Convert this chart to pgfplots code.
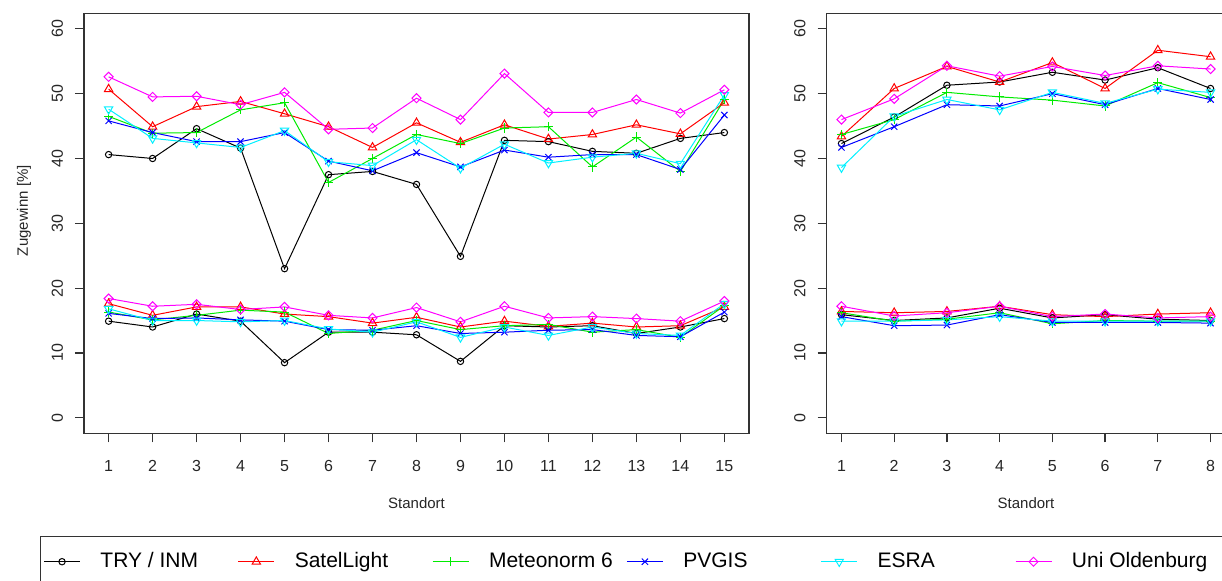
\documentclass[border=0pt]{standalone}
\usepackage{fontspec}
\setmainfont{Liberation Sans}
\usepackage{pgfplots}
\usepackage{pgfplotstable}
\pgfplotsset{compat=1.18}

\definecolor{rGreen}{RGB}{0,235,0}
\definecolor{rCyan}{RGB}{0,240,255}
\definecolor{rMag}{RGB}{255,0,255}

% left panel, upper group (x = Standort)
\pgfplotstableread{
x  try  sat  met  pvg  esra uni
1  40.6 50.7 46.5 45.8 47.6 52.6
2  40.0 44.9 43.9 44.0 43.1 49.5
3  44.6 48.0 44.0 42.6 42.4 49.6
4  41.6 48.8 47.5 42.6 41.7 48.3
5  23.0 46.9 48.6 44.0 44.3 50.2
6  37.5 44.9 36.3 39.6 39.5 44.5
7  38.0 41.7 40.0 38.1 38.9 44.7
8  36.0 45.5 43.7 40.9 42.9 49.3
9  24.9 42.5 42.3 38.7 38.5 46.0
10 42.8 45.2 44.7 41.3 42.2 53.1
11 42.6 43.0 44.9 40.2 39.3 47.1
12 41.1 43.7 38.7 40.6 40.2 47.1
13 40.8 45.2 43.3 40.6 40.8 49.1
14 43.1 43.8 38.0 38.3 39.2 47.0
15 44.0 48.6 49.1 46.7 49.8 50.6
}\leftup
% left panel, lower group
\pgfplotstableread{
x  try  sat  met  pvg  esra uni
1  14.9 17.6 16.3 16.1 16.8 18.4
2  14.0 15.8 15.1 15.3 15.0 17.2
3  16.0 17.1 15.8 15.4 15.0 17.5
4  14.9 17.1 16.6 15.1 14.8 16.7
5  8.5  16.0 16.3 14.9 15.0 17.1
6  13.2 15.6 13.0 13.6 13.7 15.8
7  13.2 14.6 13.5 13.5 13.2 15.4
8  12.8 15.5 15.0 14.2 14.8 17.0
9  8.7  14.0 13.6 13.0 12.4 14.8
10 14.2 14.9 14.2 13.2 14.0 17.2
11 14.0 14.1 14.4 13.5 12.7 15.4
12 14.2 14.6 13.2 13.6 14.0 15.6
13 13.0 14.0 13.6 12.7 13.0 15.3
14 14.0 14.2 12.4 12.5 12.7 14.9
15 15.3 17.1 17.3 16.3 17.6 18.0
}\leftlo
% right panel, upper group
\pgfplotstableread{
x  try  sat  met  pvg  esra uni
1  42.3 43.4 43.7 41.7 38.6 46.0
2  46.4 50.8 46.0 44.9 46.5 49.2
3  51.3 54.2 50.2 48.3 49.1 54.3
4  51.8 51.8 49.5 48.1 47.5 52.7
5  53.3 54.8 49.0 50.0 50.2 54.2
6  52.1 50.8 48.1 48.3 48.5 52.8
7  54.0 56.7 51.7 50.8 50.7 54.3
8  50.8 55.7 49.4 49.1 50.2 53.8
}\rightup
% right panel, lower group
\pgfplotstableread{
x  try  sat  met  pvg  esra uni
1  15.9 16.4 16.2 15.6 14.9 17.2
2  15.0 16.2 14.9 14.2 14.9 15.7
3  15.4 16.4 15.2 14.3 15.1 16.2
4  16.9 17.2 16.2 15.9 15.6 17.2
5  15.4 15.9 14.5 14.7 14.9 15.6
6  15.9 15.6 15.0 14.7 14.9 16.0
7  15.2 16.0 14.9 14.7 14.9 15.4
8  15.0 16.2 14.9 14.6 14.9 15.6
}\rightlo

\pgfplotsset{
  rpanel/.style={
    scale only axis, height=210pt,
    ymin=-2.4, ymax=62.4, ytick={0,10,...,60},
    tick align=outside, xtick pos=bottom, ytick pos=left,
    major tick length=4.5pt,
    axis line style={line width=0.6pt, black!80},
    tick style={line width=0.6pt, black!80},
    ticklabel style={font=\fontsize{8}{9}\selectfont, black!85},
    xticklabel style={yshift=-5.5pt},
    yticklabel style={rotate=90, anchor=south},
    yticklabel shift=2.5pt,
    /pgf/number format/assume math mode=true,
    xlabel={Standort}, ylabel={Zugewinn [\%]},
    label style={font=\fontsize{7.5}{9}\selectfont, black!85},
    xlabel style={at={(axis description cs:0.5,0)}, anchor=center, yshift=-34.8pt},
    ylabel style={at={(axis description cs:0,0.53)}, anchor=center, yshift=30pt},
    every axis plot/.append style={line width=0.5pt, mark options={solid, line width=0.5pt}},
  },
  sTry/.style={black, mark=o, mark size=1.6pt},
  sSat/.style={red, mark=triangle, mark size=2.4pt},
  sMet/.style={rGreen, mark=+, mark size=2.3pt},
  sPvg/.style={blue, mark=x, mark size=2.2pt},
  sEsra/.style={rCyan, mark=triangle, mark size=2.4pt, mark options={rotate=180}},
  sUni/.style={rMag, mark=square, mark size=1.6pt, mark options={rotate=45}},
}
\newcommand{\lent}[2][74.7pt]{\makebox[#1][l]{\hspace{8pt}#2}}

\begin{document}
\begin{tikzpicture}
\useasboundingbox (0,0) rectangle (611pt,290pt);

\begin{axis}[rpanel,
  at={(42pt,73.35pt)}, anchor=south west, width=332.5pt,
  xmin=0.44, xmax=15.56, xtick={1,...,15},
  legend columns=6, legend cell align=left,
  legend style={at={(axis description cs:-0.0662,-0.2445)}, anchor=north west,
    draw=black!80, line width=0.6pt, inner xsep=1.5pt, inner ysep=6pt,
    font=\fontsize{10.5}{12}\selectfont,
    /tikz/every even column/.append style={column sep=0pt}},
  legend image code/.code={\draw[line width=0.45pt, mark repeat=2, mark phase=2, #1]
    plot coordinates {(0pt,0pt)(9pt,0pt)(18pt,0pt)};},
]
\addplot[sTry]  table[x=x, y=try]  {\leftup};
\addlegendentry{\lent{TRY / INM}}
\addplot[sSat]  table[x=x, y=sat]  {\leftup};
\addlegendentry{\lent{SatelLight}}
\addplot[sMet]  table[x=x, y=met]  {\leftup};
\addlegendentry{\lent{Meteonorm 6}}
\addplot[sPvg]  table[x=x, y=pvg]  {\leftup};
\addlegendentry{\lent{PVGIS}}
\addplot[sEsra] table[x=x, y=esra] {\leftup};
\addlegendentry{\lent{ESRA}}
\addplot[sUni]  table[x=x, y=uni]  {\leftup};
\addlegendentry{\lent[90pt]{Uni Oldenburg}}

\addplot[sTry,  forget plot] table[x=x, y=try]  {\leftlo};
\addplot[sSat,  forget plot] table[x=x, y=sat]  {\leftlo};
\addplot[sMet,  forget plot] table[x=x, y=met]  {\leftlo};
\addplot[sPvg,  forget plot] table[x=x, y=pvg]  {\leftlo};
\addplot[sEsra, forget plot] table[x=x, y=esra] {\leftlo};
\addplot[sUni,  forget plot] table[x=x, y=uni]  {\leftlo};
\end{axis}

\begin{axis}[rpanel,
  at={(413.35pt,73.35pt)}, anchor=south west, width=199.3pt,
  xmin=0.72, xmax=8.28, xtick={1,...,8}, ylabel={},
]
\addplot[sTry]  table[x=x, y=try]  {\rightup};
\addplot[sSat]  table[x=x, y=sat]  {\rightup};
\addplot[sMet]  table[x=x, y=met]  {\rightup};
\addplot[sPvg]  table[x=x, y=pvg]  {\rightup};
\addplot[sEsra] table[x=x, y=esra] {\rightup};
\addplot[sUni]  table[x=x, y=uni]  {\rightup};

\addplot[sTry]  table[x=x, y=try]  {\rightlo};
\addplot[sSat]  table[x=x, y=sat]  {\rightlo};
\addplot[sMet]  table[x=x, y=met]  {\rightlo};
\addplot[sPvg]  table[x=x, y=pvg]  {\rightlo};
\addplot[sEsra] table[x=x, y=esra] {\rightlo};
\addplot[sUni]  table[x=x, y=uni]  {\rightlo};
\end{axis}
\end{tikzpicture}
\end{document}
